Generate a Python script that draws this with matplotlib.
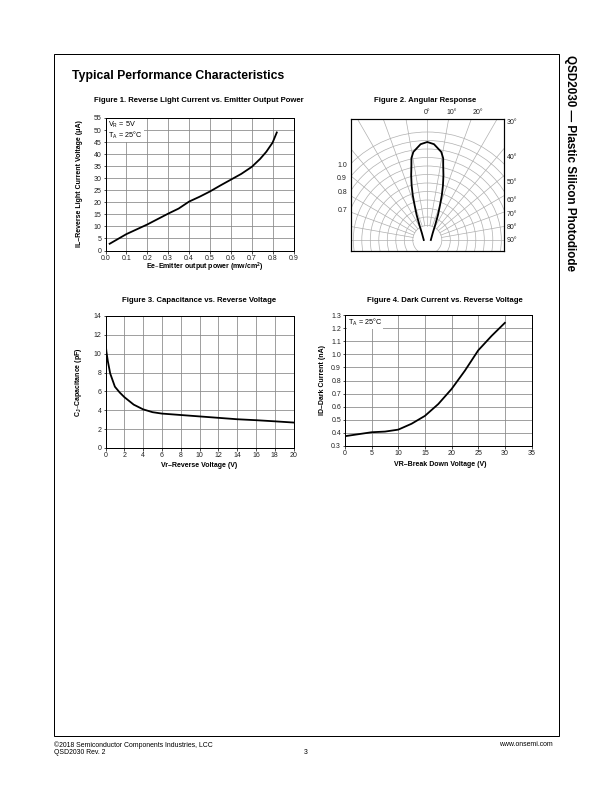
import matplotlib
matplotlib.use("Agg")
import matplotlib.pyplot as plt
import numpy as np
from matplotlib.patches import Rectangle, Circle

plt.rcParams["font.family"] = ["Liberation Sans", "DejaVu Sans"]

W, H = 612, 792

# Figure 1: reverse light current vs emitter output power
fig1_power = [0.02, 0.1, 0.2, 0.3, 0.35, 0.4, 0.45, 0.5, 0.55, 0.6, 0.65, 0.7, 0.74, 0.77, 0.8, 0.82]
fig1_current = [2.8, 6.8, 10.8, 15.3, 17.4, 20.3, 22.3, 24.5, 27.0, 29.4, 31.8, 34.7, 38.0, 41.0, 44.8, 49.0]

# Figure 2: angular response (relative response vs angle from axis)
lobe_angle = [0, 4, 6, 9, 11, 12, 14, 16, 18, 20, 23, 28, 38, 90]
lobe_resp = [1.00, 0.98, 0.95, 0.91, 0.85, 0.78, 0.68, 0.58, 0.48, 0.38, 0.28, 0.17, 0.09, 0.036]
polar_labels = [1.0, 0.9, 0.8, 0.7]
angle_top = [0, 10, 20]
angle_right = [30, 40, 50, 60, 70, 80, 90]

# Figure 3: capacitance vs reverse voltage
fig3_volt = [0, 0.1, 0.25, 0.5, 1, 1.5, 2, 3, 4, 5, 6, 8, 10, 12, 14, 16, 18, 20]
fig3_cap = [11.2, 10.2, 9.2, 7.9, 6.5, 5.9, 5.4, 4.6, 4.1, 3.8, 3.65, 3.5, 3.35, 3.2, 3.05, 2.95, 2.83, 2.7]

# Figure 4: dark current vs break down voltage
fig4_volt = [0, 2.5, 5, 7.5, 10, 12.5, 15, 17.5, 20, 22.5, 25, 27.5, 30]
fig4_curr = [0.375, 0.39, 0.405, 0.41, 0.425, 0.47, 0.53, 0.62, 0.735, 0.875, 1.03, 1.14, 1.24]


def px_rect(x0, y0, x1, y1):
    return [x0 / W, 1 - y1 / H, (x1 - x0) / W, (y1 - y0) / H]


def fx(x, y):
    return x / W, 1 - y / H


def style_axes(ax):
    for s in ax.spines.values():
        s.set_linewidth(1.0)
        s.set_color("black")
    ax.tick_params(direction="out", length=2.5, width=0.8, pad=1.5,
                   labelsize=7, colors="#222222")
    ax.grid(True, color="#8a8a8a", linewidth=0.8)
    ax.set_axisbelow(True)


fig = plt.figure(figsize=(W / 72, H / 72), dpi=72)

# page frame and header/footer
fig.patches.append(Rectangle(fx(54, 736), 505 / W, 682 / H, transform=fig.transFigure,
                             fill=False, edgecolor="black", linewidth=1.0))
fig.text(*fx(72, 76), "Typical Performance Characteristics", fontsize=12.2,
         fontweight="bold", ha="left", va="center")
fig.text(*fx(570, 55), "QSD2030 \u2014 Plastic Silicon Photodiode", fontsize=11.6,
         fontweight="bold", rotation=270, ha="center", va="top")
fig.text(*fx(54, 745), "\u00a92018 Semiconductor Components Industries, LCC", fontsize=6.9,
         ha="left", va="center")
fig.text(*fx(54, 753), "QSD2030 Rev. 2", fontsize=6.9, ha="left", va="center")
fig.text(*fx(306, 753), "3", fontsize=6.9, ha="center", va="center")
fig.text(*fx(553, 745), "www.onsemi.com", fontsize=6.9, ha="right", va="center")

title_kw = dict(fontsize=7.8, fontweight="bold", ha="center", va="center")
label_kw = dict(fontsize=7, fontweight="bold")

# ---- Figure 1
box1 = (105.5, 118, 293.5, 250.5)
ax1 = fig.add_axes(px_rect(*box1))
ax1.plot(fig1_power, fig1_current, color="black", linewidth=1.8)
ax1.set_xlim(0, 0.9)
ax1.set_ylim(0, 55)
ax1.set_xticks(np.arange(0, 0.91, 0.1))
ax1.set_xticklabels([f"{v:.1f}" for v in np.arange(0, 0.91, 0.1)])
ax1.set_yticks(np.arange(0, 56, 5))
style_axes(ax1)
ax1.text(0.015, 0.985, "V$_\\mathregular{R}$ = 5V\nT$_\\mathregular{A}$ = 25\u00b0C",
         transform=ax1.transAxes, fontsize=7.2, ha="left", va="top", linespacing=0.95,
         bbox=dict(facecolor="white", edgecolor="none", pad=1.0))
fig.text(*fx(199, 100), "Figure 1. Reverse Light Current vs. Emitter Output Power", **title_kw)
fig.text(*fx(205, 267), "Ee\u2013Emitter output power (mw/cm$^\\mathregular{2}$)",
         ha="center", va="center", **label_kw)
fig.text(*fx(79, 184), "IL\u2013Reverse Light Current Voltage (\u03bcA)", rotation=90,
         ha="center", va="center", **label_kw)

# ---- Figure 2 (drawn in pixel units around the pattern origin)
cx, cy = 427.3, 240
box2 = (351, 119, 504, 251)
ax2 = fig.add_axes(px_rect(*box2))
ax2.set_xlim(box2[0] - cx, box2[2] - cx)
ax2.set_ylim(cy - box2[3], cy - box2[1])
ax2.set_xticks([])
ax2.set_yticks([])
for s in ax2.spines.values():
    s.set_linewidth(1.2)

grid_c = "#b0b0b0"
r0, r_step = 23.0, 85.0
levels = np.round(np.arange(-0.1, 1.01, 0.1), 2)
for v in levels:
    ax2.add_patch(Circle((0, 0), r0 + r_step * v, fill=False, edgecolor=grid_c,
                         linewidth=0.7))
r_in = r0 - 0.1 * r_step
for a in range(-90, 91, 10):
    t = np.radians(a)
    ax2.plot([r_in * np.sin(t), 300 * np.sin(t)], [r_in * np.cos(t), 300 * np.cos(t)],
             color=grid_c, linewidth=0.7)
ax2.plot([0, 0], [-r_in, -50], color=grid_c, linewidth=0.7)

R_lobe = 98.0
ang = np.radians(np.concatenate([lobe_angle[::-1], -np.array(lobe_angle[1:])]))
resp = np.concatenate([lobe_resp[::-1], lobe_resp[1:]])
ax2.plot(R_lobe * resp * np.sin(ang), R_lobe * resp * np.cos(ang), color="black",
         linewidth=1.8)

xl = box2[0] - cx
for v in polar_labels:
    r = r0 + r_step * v
    y = np.sqrt(r ** 2 - xl ** 2)
    ax2.text(xl - 4, y - 2, f"{v:.1f}", fontsize=7, ha="right", va="center",
             color="#222222", clip_on=False)
xr = box2[2] - cx
ytop = cy - box2[1]
for a in angle_right:
    y = xr / np.tan(np.radians(a)) * 0.9 if a < 90 else 0
    y = min(y, ytop - 4)
    ax2.text(xr + 3, y, f"{a}\u00b0", fontsize=7, ha="left", va="center",
             color="#222222", clip_on=False)
for a in angle_top:
    x = ytop * np.tan(np.radians(a)) * 1.15
    ax2.text(x, ytop + 6, f"{a}\u00b0", fontsize=7, ha="center", va="center",
             color="#222222", clip_on=False)
fig.text(*fx(425, 100), "Figure 2. Angular Response", **title_kw)

# ---- Figure 3
box3 = (105.5, 316, 293.5, 448)
ax3 = fig.add_axes(px_rect(*box3))
ax3.plot(fig3_volt, fig3_cap, color="black", linewidth=1.8)
ax3.set_xlim(0, 20)
ax3.set_ylim(0, 14)
ax3.set_xticks(np.arange(0, 21, 2))
ax3.set_yticks(np.arange(0, 15, 2))
style_axes(ax3)
fig.text(*fx(199, 300), "Figure 3. Capacitance vs. Reverse Voltage", **title_kw)
fig.text(*fx(199, 466), "Vr\u2013Reverse Voltage (V)", ha="center", va="center", **label_kw)
fig.text(*fx(78, 382), "C$_\\mathregular{J}$\u2013Capacitance (pF)", rotation=90,
         ha="center", va="center", **label_kw)

# ---- Figure 4
box4 = (345, 315, 531.5, 446)
ax4 = fig.add_axes(px_rect(*box4))
ax4.plot(fig4_volt, fig4_curr, color="black", linewidth=1.8)
ax4.set_xlim(0, 35)
ax4.set_ylim(0.3, 1.3)
ax4.set_xticks(np.arange(0, 36, 5))
yt = np.arange(0.3, 1.31, 0.1)
ax4.set_yticks(yt)
ax4.set_yticklabels([f"{v:.1f}" for v in yt])
style_axes(ax4)
ax4.text(0.015, 0.985, "T$_\\mathregular{A}$ = 25\u00b0C", transform=ax4.transAxes,
         fontsize=7.2, ha="left", va="top",
         bbox=dict(facecolor="white", edgecolor="none", pad=1.0))
fig.text(*fx(445, 300), "Figure 4. Dark Current vs. Reverse Voltage", **title_kw)
fig.text(*fx(440, 465), "VR\u2013Break Down Voltage (V)", ha="center", va="center", **label_kw)
fig.text(*fx(323, 380), "ID\u2013Dark Current (nA)", rotation=90,
         ha="center", va="center", **label_kw)

fig.savefig("out.png", dpi=72, facecolor="white")
